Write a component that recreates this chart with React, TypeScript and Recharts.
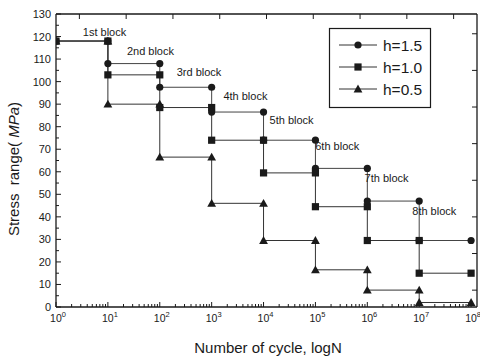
import React from "react";
import { LineChart, Line, XAxis, YAxis, ReferenceDot } from "recharts";

// cycle count at each block boundary (10^0 .. 10^8)
const cycles = [1, 1e1, 1e2, 1e3, 1e4, 1e5, 1e6, 1e7, 1e8];

// stress range per block, MPa
const stressH15 = [118, 108, 97.5, 86.5, 74, 61.5, 47, 29.5];
const stressH10 = [118, 103, 88.5, 74, 59.5, 44.5, 29.5, 15];
const stressH05 = [118, 90, 66.5, 46, 29.5, 16.5, 7.5, 2];

const blockNames = ["1st block", "2nd block", "3rd block", "4th block", "5th block", "6th block", "7th block", "8th block"];
const blockLabelExp = [0.42, 1.27, 2.23, 3.13, 4.02, 4.9, 5.85, 6.77];
const blockLabelStress = [122, 113.6, 104.3, 93.7, 83.1, 71.6, 57, 42.4];

const yTicks = Array.from({ length: 27 }, (_, i) => i * 5);
const xTicks = [...cycles.slice(0, 8).flatMap((c) => [1, 2, 3, 4, 5, 6, 7, 8, 9].map((m) => m * c)), 1e8];
const topTicks = [0.5, 1.5, 2.5, 3.5, 4.5, 5.5, 6.5, 7.5, 8.5];
const rightTicks = [0.46, 1.46, 2.46, 3.46, 4.46, 5.46, 6.46, 7.46];

const FONT = "'Liberation Sans', Arial, sans-serif";
const INK = "#1a1a1a";

const toSteps = (vals: number[]) =>
  vals.flatMap((v, i) => [
    { x: cycles[i], y: v },
    { x: cycles[i + 1], y: v },
  ]);

const CircleDot = (p: any) => <circle key={p.index} cx={p.cx} cy={p.cy} r={3.6} fill={INK} />;
const SquareDot = (p: any) => <rect key={p.index} x={p.cx - 3.6} y={p.cy - 3.6} width={7.2} height={7.2} fill={INK} />;
const TriDot = (p: any) => (
  <path key={p.index} d={`M${p.cx},${p.cy - 4.4} L${p.cx + 4.4},${p.cy + 3.4} L${p.cx - 4.4},${p.cy + 3.4} Z`} fill={INK} />
);

const isPow10 = (v: number) => Math.abs(Math.log10(v) - Math.round(Math.log10(v))) < 1e-9;

const BottomTick = (p: any) => {
  const v = p.payload.value;
  const major = isPow10(v);
  const e = Math.round(Math.log10(v));
  return (
    <g>
      <line x1={p.x} x2={p.x} y1={p.y} y2={p.y - (major ? 5 : 3)} stroke={INK} strokeWidth={1} />
      {major && (
        <text x={p.x + 2} y={p.y + 15} textAnchor="middle" fontSize={10.5} fontFamily={FONT} fill={INK}>
          10
          <tspan dy={-5} fontSize={7.5}>
            {e}
          </tspan>
        </text>
      )}
    </g>
  );
};

const LeftTick = (p: any) => {
  const v = p.payload.value;
  const major = v % 10 === 0;
  return (
    <g>
      <line x1={p.x} x2={p.x + (major ? 5 : 3)} y1={p.y} y2={p.y} stroke={INK} strokeWidth={1} />
      {major && (
        <text x={p.x - 5} y={p.y + 4} textAnchor="end" fontSize={11} fontFamily={FONT} fill={INK}>
          {v}
        </text>
      )}
    </g>
  );
};

const TopTick = (p: any) => <line x1={p.x} x2={p.x} y1={p.y} y2={p.y + 5} stroke={INK} strokeWidth={1} />;
const RightTick = (p: any) => <line x1={p.x} x2={p.x - 5} y1={p.y} y2={p.y} stroke={INK} strokeWidth={1} />;

const legendRows = [
  { name: "h=1.5", Dot: CircleDot },
  { name: "h=1.0", Dot: SquareDot },
  { name: "h=0.5", Dot: TriDot },
];

export default function App() {
  return (
    <div style={{ position: "absolute", left: 0, top: 0, width: 480, height: 361, background: "#fff" }}>
      <LineChart width={480} height={361} margin={{ top: 13, right: 2, bottom: 24, left: 0 }}>
        <XAxis
          dataKey="x"
          type="number"
          scale="log"
          domain={[1, 1.3e8]}
          allowDataOverflow
          ticks={xTicks}
          interval={0}
          height={30}
          tickSize={0}
          tickMargin={0}
          tickLine={false}
          axisLine={{ stroke: INK, strokeWidth: 1.3 }}
          tick={<BottomTick />}
        />
        <XAxis
          xAxisId="top"
          dataKey="x"
          orientation="top"
          type="number"
          domain={[0, 9]}
          allowDataOverflow
          ticks={topTicks}
          interval={0}
          height={1}
          tickSize={0}
          tickMargin={0}
          tickLine={false}
          axisLine={{ stroke: INK, strokeWidth: 1.3 }}
          tick={<TopTick />}
        />
        <YAxis
          type="number"
          domain={[0, 130]}
          allowDataOverflow
          ticks={yTicks}
          interval={0}
          width={56}
          tickSize={0}
          tickMargin={0}
          tickLine={false}
          axisLine={{ stroke: INK, strokeWidth: 1.3 }}
          tick={<LeftTick />}
        />
        <YAxis
          yAxisId="right"
          orientation="right"
          type="number"
          domain={[0, 8]}
          allowDataOverflow
          ticks={rightTicks}
          interval={0}
          width={1}
          tickSize={0}
          tickMargin={0}
          tickLine={false}
          axisLine={{ stroke: INK, strokeWidth: 1.3 }}
          tick={<RightTick />}
        />
        {/* empty series so the frame axes (top/right) get drawn */}
        <Line xAxisId="top" yAxisId="right" data={[]} dataKey="y" stroke="none" dot={false} activeDot={false} isAnimationActive={false} />
        <Line data={toSteps(stressH05)} dataKey="y" stroke="#333" strokeWidth={1} dot={TriDot} activeDot={false} isAnimationActive={false} />
        <Line data={toSteps(stressH10)} dataKey="y" stroke="#333" strokeWidth={1} dot={SquareDot} activeDot={false} isAnimationActive={false} />
        <Line data={toSteps(stressH15)} dataKey="y" stroke="#444" strokeWidth={1} dot={CircleDot} activeDot={false} isAnimationActive={false} />
        {blockNames.map((name, i) => (
          <ReferenceDot
            key={name}
            x={10 ** blockLabelExp[i]}
            y={blockLabelStress[i]}
            r={0}
            fill="none"
            stroke="none"
            label={{ value: name, position: "right", fontSize: 11, fontFamily: FONT, fill: INK }}
          />
        ))}
      </LineChart>

      <svg width={480} height={361} style={{ position: "absolute", left: 0, top: 0, pointerEvents: "none" }}>
        <text x={268} y={353} textAnchor="middle" fontSize={15} fontFamily={FONT} fill={INK}>
          Number of cycle, logN
        </text>
        <text transform="translate(19,169) rotate(-90)" textAnchor="middle" fontSize={15} fontFamily={FONT} fill={INK} xmlSpace="preserve">
          Stress  range(<tspan fontStyle="italic"> MPa</tspan>)
        </text>
        <g transform="translate(329,28)">
          <rect x={0.5} y={0.5} width={101} height={79} fill="#fff" stroke={INK} strokeWidth={1.2} />
          {legendRows.map((r, i) => {
            const cy = 17 + i * 22;
            return (
              <g key={r.name}>
                <line x1={10} x2={48} y1={cy} y2={cy} stroke="#333" strokeWidth={1} />
                <r.Dot cx={29} cy={cy} index={i} />
                <text x={54} y={cy + 5.5} fontSize={15.5} fontFamily={FONT} fill={INK}>
                  {r.name}
                </text>
              </g>
            );
          })}
        </g>
      </svg>
    </div>
  );
}
